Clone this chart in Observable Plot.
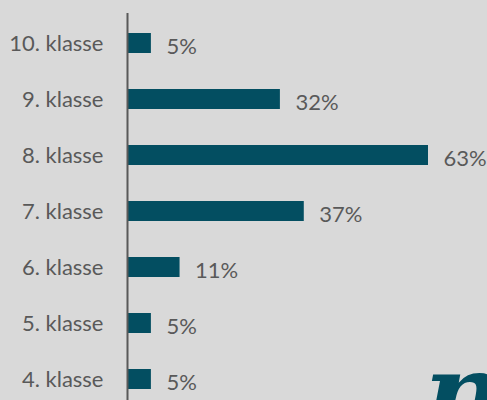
<!DOCTYPE html>
<html><head><meta charset="utf-8">
<script src="https://cdn.jsdelivr.net/npm/d3@7"></script>
<script src="https://cdn.jsdelivr.net/npm/@observablehq/plot@0.6"></script>
<style>
html,body{margin:0;padding:0;background:#d9d9d9;overflow:hidden;}
#wrap{position:relative;width:487px;height:400px;overflow:hidden;}
#logo{position:absolute;left:424px;top:339px;font-family:"DejaVu Serif";font-style:italic;font-weight:bold;font-size:110px;color:#034e61;line-height:1;}
</style></head><body><div id="wrap"></div>
<script>
const grades = ["10. klasse","9. klasse","8. klasse","7. klasse","6. klasse","5. klasse","4. klasse"];
const shares = [5,32,63,37,11,5,5];
const shareLabels = ["5%","32%","63%","37%","11%","5%","5%"];
const data = grades.map((g,i)=>({grade:g, share:shares[i], label:shareLabels[i]}));
const chart = Plot.plot({
 width:487, height:400, marginLeft:127, marginTop:13, marginBottom:0, marginRight:0,
 style:{background:"#d9d9d9", fontFamily:"Lato", fontSize:"22px", color:"#595959", overflow:"visible"},
 x:{domain:[0,63], range:[127,428], axis:null},
 y:{domain:grades, range:[12.7,409.3], paddingInner:0.65, paddingOuter:0.325, label:null},
 marks:[
  Plot.barX(data,{x:"share", y:"grade", fill:"#034e61"}),
  Plot.ruleX([0],{stroke:"#595959", strokeWidth:2}),
  Plot.text(data,{x:"share", y:"grade", text:"label", textAnchor:"start", dx:15, dy:3, fill:"#595959"}),
  Plot.axisY({tickSize:0, tickPadding:24, label:null})
 ]
});
const wrap = document.getElementById("wrap");
wrap.appendChild(chart);
const logo = document.createElement("div");
logo.id = "logo";
logo.textContent = "n";
wrap.appendChild(logo);
</script>
</body></html>
